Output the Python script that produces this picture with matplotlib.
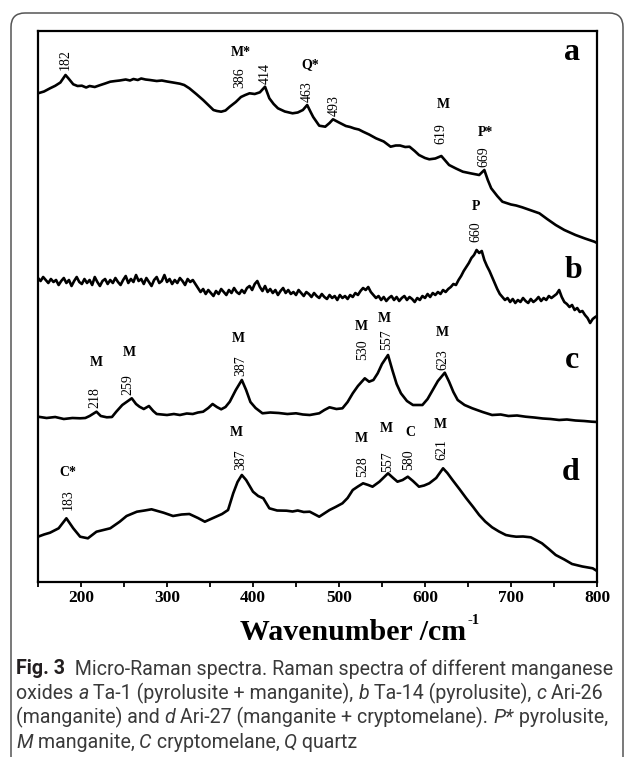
import matplotlib
matplotlib.use("Agg")
import matplotlib.pyplot as plt
from matplotlib.patches import FancyBboxPatch
from matplotlib.transforms import IdentityTransform
from matplotlib.ticker import MultipleLocator

# ---------------- data (wavenumber cm-1, intensity a.u. incl. vertical offset) -------------
a_wn = [150, 157, 164, 170, 176, 182, 186, 191, 196, 201, 206, 210, 216, 222, 228, 234, 240, 245, 252, 257,
        261, 266, 270, 275, 280, 288, 294, 300, 307, 315, 320, 326, 334, 342, 348, 354, 358, 363, 368, 373,
        380, 386, 391, 396, 402, 408, 414, 419, 424, 429, 437, 446, 452, 458, 463, 467, 470, 477, 484, 489,
        493, 500, 508, 513, 518, 523, 528, 535, 543, 552, 560, 566, 571, 577, 582, 588, 593, 600, 605, 612,
        619, 624, 628, 636, 644, 654, 663, 669, 673, 677, 684, 690, 700, 706, 713, 722, 733, 742, 752, 762,
        775, 786, 797, 800]
a_int = [488.7, 490.5, 493.7, 496.2, 499.5, 507.0, 503.0, 497.7, 496.0, 496.3, 494.5, 496.0, 495.0, 496.8, 498.5, 500.3, 501.0, 501.5, 502.5, 501.5,
         503.0, 502.0, 503.5, 502.5, 502.0, 501.0, 501.5, 500.5, 499.5, 498.3, 497.0, 493.7, 488.0, 482.0, 477.0, 472.0, 471.0, 470.3, 471.5, 475.3,
         480.0, 485.0, 487.0, 488.7, 488.0, 489.7, 495.3, 483.7, 478.0, 473.7, 470.5, 468.7, 469.5, 472.0, 477.0, 470.0, 465.0, 456.3, 455.3, 459.0,
         462.7, 459.5, 456.0, 455.0, 453.5, 452.5, 450.3, 447.5, 443.7, 440.5, 435.3, 436.5, 436.5, 435.0, 435.3, 431.0, 427.0, 424.0, 422.7, 423.5,
         426.0, 421.0, 417.0, 413.5, 410.3, 408.5, 407.0, 412.0, 402.0, 393.7, 386.0, 380.3, 377.5, 376.5, 374.7, 372.0, 368.7, 363.0, 357.0, 352.0,
         347.0, 343.5, 340.3, 339.0]

b_wn = [150, 153, 156, 159, 162, 165, 168, 171, 174, 177, 180, 183, 186, 189, 192, 195, 198, 201, 204, 207,
        210, 213, 216, 219, 222, 225, 228, 231, 234, 237, 240, 243, 246, 249, 252, 255, 258, 261, 264, 267,
        270, 273, 276, 279, 282, 285, 288, 291, 294, 297, 300, 303, 306, 309, 312, 315, 318, 321, 324, 327,
        330, 333, 336, 339, 342, 345, 348, 351, 354, 357, 360, 363, 366, 369, 372, 375, 378, 381, 384, 387,
        390, 393, 396, 399, 402, 405, 408, 411, 414, 417, 420, 423, 426, 429, 432, 435, 438, 441, 444, 447,
        450, 453, 456, 459, 462, 465, 468, 471, 474, 477, 480, 483, 486, 489, 492, 495, 498, 501, 504, 507,
        510, 513, 516, 519, 522, 525, 528, 531, 534, 537, 540, 543, 546, 549, 552, 555, 558, 561, 564, 567,
        570, 573, 576, 579, 582, 585, 588, 591, 594, 597, 600, 603, 606, 609, 612, 615, 618, 621, 624, 627,
        630, 633, 636, 639, 642, 645, 648, 651, 654, 657, 660, 663, 666, 669, 672, 675, 678, 681, 684, 687,
        690, 693, 696, 699, 702, 705, 708, 711, 714, 717, 720, 723, 726, 729, 732, 735, 738, 741, 744, 747,
        750, 753, 756, 759, 762, 765, 768, 771, 774, 777, 780, 783, 786, 789, 792, 795, 798, 800]
b_int = [304, 301, 305, 302, 299, 303, 300, 302, 297, 301, 304, 299, 302, 296, 301, 305, 300, 298, 303, 299,
         302, 297, 305, 300, 296, 301, 303, 298, 302, 299, 304, 300, 297, 302, 306, 299, 303, 300, 307, 301,
         303, 298, 304, 300, 296, 302, 305, 299, 301, 307, 300, 303, 298, 302, 299, 304, 301, 297, 303, 300,
         302, 298, 294, 290, 293, 288, 292, 289, 286, 291, 288, 293, 290, 287, 292, 289, 294, 290, 288, 292,
         289, 294, 296, 292, 298, 301, 295, 291, 296, 290, 293, 289, 292, 287, 291, 294, 289, 292, 288, 290,
         287, 292, 289, 286, 290, 288, 285, 289, 286, 284, 288, 285, 283, 287, 284, 286, 282, 287, 284, 286,
         283, 287, 285, 289, 287, 291, 294, 292, 295, 290, 287, 284, 286, 282, 285, 281, 284, 286, 282, 285,
         281, 284, 286, 282, 285, 283, 280, 284, 282, 286, 284, 288, 285, 289, 287, 290, 288, 292, 290, 293,
         295, 298, 297, 302, 306, 311, 315, 319, 324, 327, 332, 329, 331, 322, 316, 311, 305, 299, 293, 288,
         285, 282, 284, 280, 283, 279, 282, 280, 284, 281, 279, 283, 280, 282, 285, 281, 284, 282, 286, 284,
         286, 288, 292, 285, 280, 278, 275, 277, 272, 274, 270, 271, 267, 264, 259, 263, 265, 266]

c_wn = [150, 160, 170, 180, 190, 199, 205, 210, 218, 223, 230, 236, 241, 248, 259, 264, 268, 273, 279, 284,
        288, 300, 308, 315, 323, 330, 336, 342, 348, 353, 358, 363, 368, 373, 380, 387, 392, 397, 403, 411,
        420, 430, 440, 450, 458, 466, 477, 483, 489, 497, 504, 510, 516, 522, 530, 535, 540, 545, 550, 557,
        562, 567, 572, 579, 586, 597, 603, 609, 615, 623, 628, 633, 638, 646, 655, 667, 678, 688, 697, 707,
        717, 727, 737, 746, 756, 765, 775, 785, 794, 800]
c_int = [165.3, 164.0, 165.0, 163.0, 164.0, 163.7, 164.0, 166.0, 170.3, 166.0, 164.7, 165.0, 170.3, 177.0, 183.7, 178.0, 175.3, 173.0, 176.0, 171.0,
         168.0, 167.0, 168.0, 167.0, 168.5, 168.0, 169.5, 170.3, 174.0, 178.0, 175.0, 172.7, 175.0, 180.3, 192.0, 202.0, 192.0, 180.0, 174.0, 168.7,
         169.5, 169.0, 168.0, 168.7, 167.5, 167.0, 168.7, 172.0, 174.7, 173.0, 173.7, 180.0, 188.7, 196.0, 203.7, 200.3, 202.0, 208.7, 218.0, 227.0,
         212.0, 198.0, 188.7, 181.0, 177.0, 177.0, 183.0, 192.0, 201.0, 209.3, 200.3, 190.0, 182.0, 177.0, 173.7, 170.0, 167.0, 167.5, 166.0, 166.5,
         165.3, 164.5, 163.5, 163.0, 162.0, 162.5, 161.5, 161.0, 160.3, 160.0]

d_wn = [150, 157, 164, 174, 183, 191, 199, 208, 218, 226, 234, 245, 253, 265, 274, 282, 289, 296, 307, 317,
        326, 336, 344, 351, 357, 364, 371, 377, 382, 387, 392, 400, 406, 412, 419, 428, 439, 446, 452, 459,
        466, 477, 489, 496, 504, 510, 516, 522, 528, 534, 539, 547, 557, 563, 568, 574, 580, 586, 593, 599,
        605, 613, 621, 626, 632, 640, 648, 656, 663, 670, 678, 686, 694, 700, 706, 714, 723, 729, 736, 744,
        752, 762, 771, 783, 795, 800]
d_int = [45.3, 47.5, 49.3, 53.7, 63.7, 53.7, 45.3, 43.7, 50.3, 52.0, 53.7, 60.3, 66.0, 70.3, 71.5, 72.7, 71.0, 69.3, 66.0, 67.5,
         68.0, 64.0, 60.3, 63.0, 65.3, 68.0, 72.0, 88.7, 100.0, 107.0, 102.0, 90.3, 86.0, 83.7, 73.7, 71.5, 71.3, 70.5, 71.5, 70.0,
         70.3, 65.3, 72.0, 75.0, 78.7, 84.0, 92.0, 95.5, 98.7, 97.0, 95.3, 100.3, 108.7, 104.0, 100.3, 102.0, 105.3, 101.0, 95.3, 96.5,
         98.7, 104.0, 113.7, 109.0, 102.0, 93.0, 83.7, 75.0, 67.0, 60.5, 54.7, 50.5, 47.0, 46.0, 45.3, 45.5, 44.7, 42.0, 38.7, 33.0,
         27.0, 22.5, 18.0, 15.5, 13.7, 11.0]

xticks = [200, 300, 400, 500, 600, 700, 800]
panel_labels = ["a", "b", "c", "d"]

# peak annotations: (x, y, text, kind)  kind 'n' = rotated number, 'l' = bold letter
annotations = [
    (182, 522, "182", "n"), (386, 529, "M*", "l"), (385, 504, "386", "n"), (414, 508, "414", "n"),
    (466, 517, "Q*", "l"), (463, 490, "463", "n"), (494, 476, "493", "n"), (621, 478, "M", "l"),
    (619, 448, "619", "n"), (670, 450, "P*", "l"), (668, 425, "669", "n"),
    (659, 375, "P", "l"), (659, 350, "660", "n"),
    (218, 219, "M", "l"), (216, 184, "218", "n"), (256, 229, "M", "l"), (255, 197, "259", "n"),
    (383, 243, "M", "l"), (386, 216, "387", "n"), (526, 255, "M", "l"), (528, 232, "530", "n"),
    (553, 264, "M", "l"), (555, 242, "557", "n"), (620, 249, "M", "l"), (621, 222, "623", "n"),
    (185, 109, "C*", "l"), (185, 82, "183", "n"), (381, 150, "M", "l"), (386, 122, "387", "n"),
    (526, 144, "M", "l"), (528, 115, "528", "n"), (555, 154, "M", "l"), (556, 120, "557", "n"),
    (583, 149, "C", "l"), (581, 122, "580", "n"), (618, 157, "M", "l"), (620, 132, "621", "n"),
]
panel_pos = [(771, 530), (773, 312), (771, 222), (769, 110)]

# ---------------- figure ---------------------------------------------------------------
W, H = 625, 757
fig = plt.figure(figsize=(W / 100, H / 100), dpi=100)

serif = "Liberation Serif"
left, right, top, bottom = 38, 597, 31, 582
ax = fig.add_axes([left / W, 1 - bottom / H, (right - left) / W, (bottom - top) / H])

for xs, ys in [(a_wn, a_int), (b_wn, b_int), (c_wn, c_int), (d_wn, d_int)]:
    ax.plot(xs, ys, color="black", lw=1.9, solid_joinstyle="round")

ax.set_xlim(150, 800)
ax.set_ylim(0, 551)
ax.set_yticks([])
ax.set_xticks(xticks)
ax.xaxis.set_minor_locator(MultipleLocator(50))
ax.tick_params(axis="x", which="both", direction="out", length=3.5, width=1.3, pad=2.5,
               top=False)
ax.set_xticklabels([str(t) for t in xticks], fontfamily=serif, fontweight="bold", fontsize=12.5)
for s in ax.spines.values():
    s.set_linewidth(1.6)

for (x, y, t, k) in annotations:
    if k == "n":
        ax.text(x, y, t, rotation=90, ha="center", va="center", family=serif, fontsize=10)
    else:
        ax.text(x, y, t, ha="center", va="center", family=serif, fontsize=10, fontweight="bold")
for (x, y), lab in zip(panel_pos, panel_labels):
    ax.text(x, y, lab, ha="center", va="center", family=serif, fontsize=23, fontweight="bold")

renderer = fig.canvas.get_renderer()

# x label with small superscript
xl = fig.text(240 / W, 1 - 633 / H, "Wavenumber /cm", ha="left", va="center",
              family=serif, fontweight="bold", fontsize=21.5)
bb = xl.get_window_extent(renderer)
fig.text((bb.x1 + 1) / W, 1 - 620 / H, "-1", ha="left", va="center",
         family=serif, fontweight="bold", fontsize=10.5)

# border
fig.add_artist(FancyBboxPatch((11, -30), 612, H - 13 + 30,
                              boxstyle="round,pad=0,rounding_size=14",
                              transform=IdentityTransform(), fill=False,
                              ec="#555555", lw=1.1))

# caption
cap_font = "Roboto"
body = "#3a3a3a"
lines = [
    [("Fig. 3", "normal", "bold", "#231f20"), ("  Micro-Raman spectra. Raman spectra of different manganese", "normal", "normal", body)],
    [("oxides ", "normal", "normal", body), ("a", "italic", "normal", body),
     (" Ta-1 (pyrolusite + manganite), ", "normal", "normal", body), ("b", "italic", "normal", body),
     (" Ta-14 (pyrolusite), ", "normal", "normal", body), ("c", "italic", "normal", body),
     (" Ari-26", "normal", "normal", body)],
    [("(manganite) and ", "normal", "normal", body), ("d", "italic", "normal", body),
     (" Ari-27 (manganite + cryptomelane). ", "normal", "normal", body), ("P*", "italic", "normal", body),
     (" pyrolusite,", "normal", "normal", body)],
    [("M", "italic", "normal", body), (" manganite, ", "normal", "normal", body),
     ("C", "italic", "normal", body), (" cryptomelane, ", "normal", "normal", body),
     ("Q", "italic", "normal", body), (" quartz", "normal", "normal", body)],
]
line_y = [667, 691.5, 715.5, 740]


def seg_width(text, style, weight, size):
    t = fig.text(0, 0, text, family=cap_font, style=style, weight=weight, fontsize=size)
    w = t.get_window_extent(renderer).width
    t.remove()
    return w


base = 12
w1 = sum(seg_width(s, st, wt, base) for s, st, wt, c in lines[0])
size = base * 596 / w1

for segs, yc in zip(lines, line_y):
    x = 16
    for s, st, wt, c in segs:
        t = fig.text(x / W, 1 - yc / H, s, family=cap_font, style=st, weight=wt, fontsize=size,
                     color=c, ha="left", va="center_baseline")
        x += t.get_window_extent(renderer).width

fig.savefig("out.png", dpi=100)
